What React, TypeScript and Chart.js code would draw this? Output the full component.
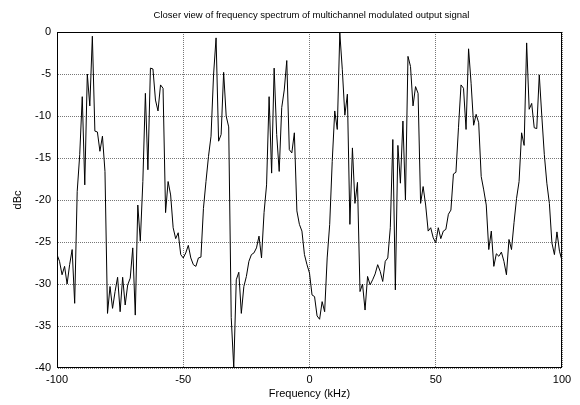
import { useEffect, useRef } from "react";
import { Chart, registerables } from "chart.js";

Chart.register(...registerables);

const freqKHz: number[] = [
  -100, -99, -98, -97, -96, -95, -94, -93, -92, -91, -90, -89, -88, -87, -86, -85, -84, -83, -82, -81,
  -80, -79, -78, -77, -76, -75, -74, -73, -72, -71, -70, -69, -68, -67, -66, -65, -64, -63, -62, -61,
  -60, -59, -58, -57, -56, -55, -54, -53, -52, -51, -50, -49, -48, -47, -46, -45, -44, -43, -42, -41,
  -40, -39, -38, -37, -36, -35, -34, -33, -32, -31, -30, -29, -28, -27, -26, -25, -24, -23, -22, -21,
  -20, -19, -18, -17, -16, -15, -14, -13, -12, -11, -10, -9, -8, -7, -6, -5, -4, -3, -2, -1,
  0, 1, 2, 3, 4, 5, 6, 7, 8, 9, 10, 11, 12, 13, 14, 15, 16, 17, 18, 19,
  20, 21, 22, 23, 24, 25, 26, 27, 28, 29, 30, 31, 32, 33, 34, 35, 36, 37, 38, 39,
  40, 41, 42, 43, 44, 45, 46, 47, 48, 49, 50, 51, 52, 53, 54, 55, 56, 57, 58, 59,
  60, 61, 62, 63, 64, 65, 66, 67, 68, 69, 70, 71, 72, 73, 74, 75, 76, 77, 78, 79,
  80, 81, 82, 83, 84, 85, 86, 87, 88, 89, 90, 91, 92, 93, 94, 95, 96, 97, 98, 99, 100,
];

const levelDBc: number[] = [
  -26.5, -27.3, -28.9, -27.9, -30, -27.7, -25.9, -32.3, -19, -14.6, -7.7, -18.2, -5, -8.8, -0.5, -11.8, -11.9, -14.2, -12.4, -16.6,
  -33.5, -30.3, -32.9, -30.9, -29.2, -33.3, -29.2, -32.5, -30.1, -29.3, -25.7, -33.7, -20.6, -24.9, -17.8, -7.3, -16.4, -4.3, -4.4, -8.1,
  -9.4, -6.3, -6.7, -21.5, -17.8, -19.4, -23.3, -24.6, -23.9, -26.5, -26.9, -26.3, -25.4, -26.9, -27.7, -27.9, -26.9, -26.8, -21, -17.8,
  -14.8, -12.4, -5.1, -0.7, -13, -12.2, -4.8, -10, -11.3, -34, -40, -29.5, -28.6, -33.5, -30.3, -29.1, -27.3, -26.5, -26.3, -25.7,
  -24.3, -26.9, -21.5, -18.2, -7.7, -16.8, -4.3, -12.2, -16.6, -9, -6.9, -3.4, -14, -14.4, -12, -21.3, -22.9, -23.7, -26.5, -27.7,
  -28.7, -31.3, -31.5, -33.8, -34.2, -32.1, -33.3, -26.9, -22.9, -15.4, -9.4, -11.6, -0.1, -4.5, -9.9, -7.4, -22.9, -13.8, -20.4, -17.9,
  -30.9, -30, -33.1, -29.1, -30.1, -29.5, -28.8, -27.7, -28.5, -29.7, -27.3, -26.9, -23.3, -12.8, -30.7, -13.5, -18, -10.6, -20, -2.9,
  -4.1, -8.8, -6.5, -7.3, -20.4, -18.4, -20.6, -23.7, -23.3, -24.5, -25.1, -23.3, -24.6, -23.7, -23.5, -21.7, -21.2, -16.9, -16.7, -11.4,
  -6.3, -6.7, -11.6, -2, -6.1, -11.1, -9.8, -10.8, -17.2, -18.8, -20.6, -25.9, -23.7, -27.9, -26.4, -26.7, -26.2, -27.3, -28.9, -24.7,
  -25.9, -22.7, -19.8, -17.8, -12, -13.5, -1.3, -9.2, -8.5, -11.4, -11.5, -5.1, -10, -14.6, -18, -20.4, -25.1, -26.5, -23.8, -26.1, -27.2,
];

const titleText = "Closer view of frequency spectrum of multichannel modulated output signal";
const xTitle = "Frequency (kHz)";
const yTitle = "dBc";

const FONT = "'Liberation Sans', Arial, Helvetica, sans-serif";

const frameAndTitle = {
  id: "frameAndTitle",
  afterDatasetsDraw(chart: any) {
    const { ctx, chartArea } = chart;
    const l = Math.round(chartArea.left) + 0.5;
    const t = Math.round(chartArea.top) + 0.5;
    const r = Math.round(chartArea.right) - 0.5;
    const b = Math.round(chartArea.bottom) - 0.5;
    ctx.save();
    ctx.strokeStyle = "#000";
    ctx.lineWidth = 1;
    ctx.setLineDash([]);
    ctx.strokeRect(l, t, r - l, b - t);
    ctx.fillStyle = "#000";
    ctx.font = `9.5px ${FONT}`;
    ctx.textAlign = "center";
    ctx.textBaseline = "middle";
    ctx.fillText(titleText, (chartArea.left + chartArea.right) / 2 + 2, 15.5);
    ctx.restore();
  },
};

export default function App() {
  const ref = useRef<HTMLCanvasElement | null>(null);

  useEffect(() => {
    if (!ref.current) return;
    const data = freqKHz.map((x, i) => ({ x, y: levelDBc[i] }));
    const gridDash = [1, 1];
    const chart = new Chart(ref.current, {
      type: "line",
      data: {
        datasets: [
          {
            data,
            borderColor: "#000",
            borderWidth: 1,
            pointRadius: 0,
            tension: 0,
            fill: false,
          },
        ],
      },
      options: {
        responsive: false,
        animation: false,
        parsing: false as any,
        layout: { padding: { left: 0, right: 18, top: 32, bottom: 0 } },
        plugins: {
          legend: { display: false },
          tooltip: { enabled: false },
          title: { display: false },
        },
        scales: {
          x: {
            type: "linear",
            min: -100,
            max: 100,
            afterFit(scale: any) {
              scale.height = 37;
            },
            ticks: {
              stepSize: 50,
              color: "#000",
              font: { family: FONT, size: 11 },
              padding: 5,
              maxRotation: 0,
            },
            grid: {
              color: "#777",
              lineWidth: 1,
              drawTicks: false,
              borderDash: gridDash,
            } as any,
            border: { display: true, color: "rgba(0,0,0,0)", width: 1, dash: gridDash },
            title: {
              display: true,
              text: xTitle,
              color: "#000",
              font: { family: FONT, size: 11 },
              padding: { top: 0, bottom: 4 },
            },
          },
          y: {
            type: "linear",
            min: -40,
            max: 0,
            afterFit(scale: any) {
              scale.width = 57;
            },
            ticks: {
              stepSize: 5,
              color: "#000",
              font: { family: FONT, size: 11 },
              padding: 6,
            },
            grid: {
              color: "#777",
              lineWidth: 1,
              drawTicks: false,
              borderDash: gridDash,
            } as any,
            border: { display: true, color: "rgba(0,0,0,0)", width: 1, dash: gridDash },
            title: {
              display: true,
              text: yTitle,
              color: "#000",
              font: { family: FONT, size: 11 },
              padding: { top: 11.5, bottom: 0 },
            },
          },
        },
      },
      plugins: [frameAndTitle],
    });
    return () => chart.destroy();
  }, []);

  return (
    <div style={{ position: "fixed", left: 0, top: 0, width: 580, height: 405, background: "#fff" }}>
      <canvas ref={ref} width={580} height={405} style={{ display: "block", width: 580, height: 405 }} />
    </div>
  );
}
